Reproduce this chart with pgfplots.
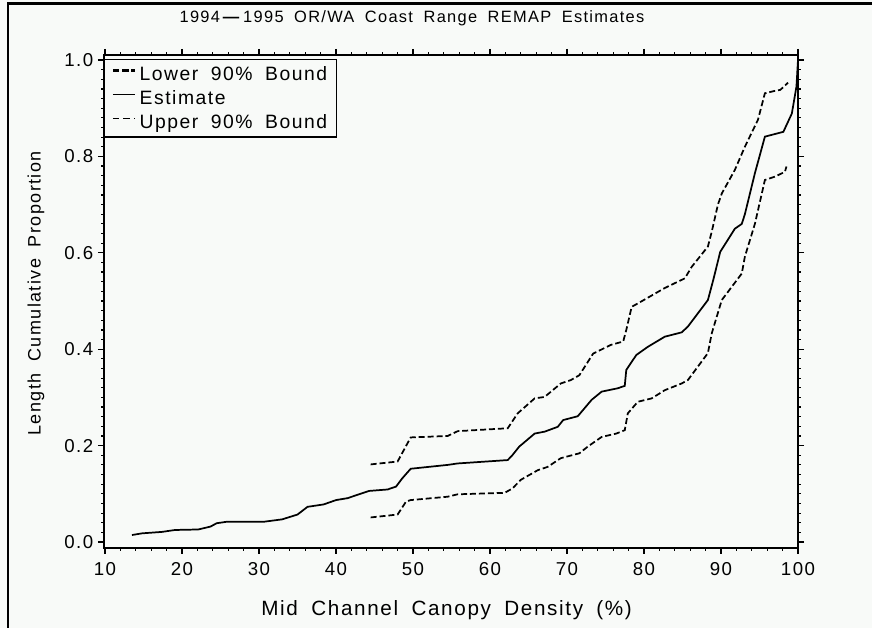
\documentclass[border=0pt]{standalone}
\usepackage{fontspec}
\setmainfont{Liberation Sans}[LetterSpace=8,WordSpace=1.8]
\usepackage{pgfplots}
\pgfplotsset{compat=1.18}
\definecolor{paper}{rgb}{0.972,0.980,0.972}
\begin{document}
\begin{tikzpicture}[x=1pt,y=1pt]
\useasboundingbox[fill=paper] (-78,-60) rectangle (576,411);
% outer frame (only left and top edges show)
\draw[line width=1.8pt] (-72,-60) -- (-72,408.5) -- (576,408.5);
\node[font=\fontsize{12.3}{14}\selectfont] at (231,397.5) {1994\,\textbf{—}\,1995 OR/WA Coast Range REMAP Estimates};
\node[font=\fontsize{15.5}{17}\selectfont] at (257,-46.5) {Mid Channel Canopy Density (\%)};
\node[font=\fontsize{13.5}{15}\selectfont, rotate=90] at (-51,191) {Length Cumulative Proportion};
\begin{axis}[
  at={(0,0)}, anchor=south west,
  scale only axis, width=520.5pt, height=369.75pt,
  xmin=9.87, xmax=100, ymin=-0.0124, ymax=1.0104,
  xtick={10,20,...,100}, ytick={0,0.2,...,1.0},
  minor x tick num=4, minor y tick num=9,
  tick align=outside, major tick length=4.5pt, minor tick length=2.2pt,
  axis line style={line width=1.2pt}, tick style={line width=0.9pt,black},
  scaled ticks=false,
  yticklabel style={/pgf/number format/fixed,/pgf/number format/fixed zerofill,/pgf/number format/precision=1},
  /pgf/number format/assume math mode=true,
  tick label style={font=\fontsize{14}{15}\selectfont},
  xticklabel style={yshift=-3pt},
  legend style={at={(rel axis cs:0,0.9919)}, anchor=north west, draw=black, line width=1pt,
    fill=paper, font=\fontsize{14.5}{16}\selectfont, inner xsep=5pt, inner ysep=3pt,
    row sep=2pt, legend cell align=left},
  legend image code/.code={\draw[#1] (0pt,0.5ex) -- (17pt,0.5ex);},
  axis background/.style={fill=paper},
]
\addlegendimage{black, line width=2.2pt, dash pattern=on 5pt off 2pt}
\addlegendentry{Lower 90\% Bound}
\addlegendimage{black, line width=0.9pt}
\addlegendentry{Estimate}
\addlegendimage{black, line width=0.9pt, dash pattern=on 5pt off 3pt}
\addlegendentry{Upper 90\% Bound}
% upper curve
\addplot[black, line width=1.3pt, dash pattern=on 4.5pt off 2.2pt, forget plot] coordinates {
(44.5,0.161) (48.0,0.167) (49.7,0.217) (54.5,0.220) (55.8,0.230) (62.3,0.236) (63.6,0.267)
(65.8,0.298) (67.1,0.301) (69.2,0.329) (70.5,0.336) (71.6,0.346) (73.4,0.391) (75.7,0.409)
(77.3,0.416) (77.7,0.440) (78.4,0.488) (79.2,0.495) (82.7,0.527) (85.3,0.547) (86.2,0.571)
(88.3,0.613) (88.8,0.644) (89.6,0.700) (90.1,0.723) (91.8,0.772) (93.1,0.820) (94.8,0.876)
(95.7,0.931) (97.0,0.936) (97.7,0.938) (98.7,0.953)};
% estimate
\addplot[black, line width=1.3pt, forget plot] coordinates {
(13.5,0.0145) (14.8,0.018) (17.4,0.021) (19.1,0.025) (22.1,0.026) (23.7,0.032) (24.5,0.039)
(25.8,0.042) (30.6,0.042) (33.0,0.047) (35.0,0.057) (36.3,0.073) (38.4,0.078) (40.0,0.087)
(41.5,0.091) (44.3,0.106) (46.7,0.109) (47.8,0.115) (48.6,0.132) (49.7,0.152) (54.5,0.160)
(55.8,0.163) (62.3,0.170) (62.9,0.180) (63.8,0.198) (65.8,0.225) (67.1,0.229) (68.8,0.239)
(69.5,0.253) (71.4,0.261) (73.2,0.295) (74.5,0.312) (76.6,0.319) (77.5,0.324) (77.7,0.357)
(79.0,0.388) (80.5,0.405) (82.7,0.426) (84.9,0.435) (85.7,0.447) (88.3,0.502) (89.0,0.544)
(89.9,0.602) (91.8,0.650) (92.7,0.660) (93.1,0.680) (94.4,0.765) (95.7,0.841) (98.1,0.851)
(99.2,0.889) (99.8,0.945) (100,1.0)};
% lower curve
\addplot[black, line width=1.3pt, dash pattern=on 4.5pt off 2.2pt, forget plot] coordinates {
(44.5,0.051) (48.0,0.057) (49.1,0.084) (49.7,0.087) (54.5,0.094) (55.8,0.099) (61.9,0.102)
(62.9,0.111) (64.0,0.129) (66.2,0.149) (67.5,0.156) (69.2,0.174) (71.6,0.184) (72.7,0.198)
(74.5,0.218) (76.4,0.225) (77.5,0.232) (77.9,0.267) (79.2,0.291) (81.0,0.298) (82.7,0.315)
(84.9,0.329) (85.7,0.336) (88.3,0.392) (88.8,0.433) (90.1,0.502) (92.7,0.557) (93.1,0.592)
(94.4,0.660) (95.7,0.751) (97.0,0.758) (98.3,0.768) (98.5,0.779)};
\end{axis}
\end{tikzpicture}
\end{document}
